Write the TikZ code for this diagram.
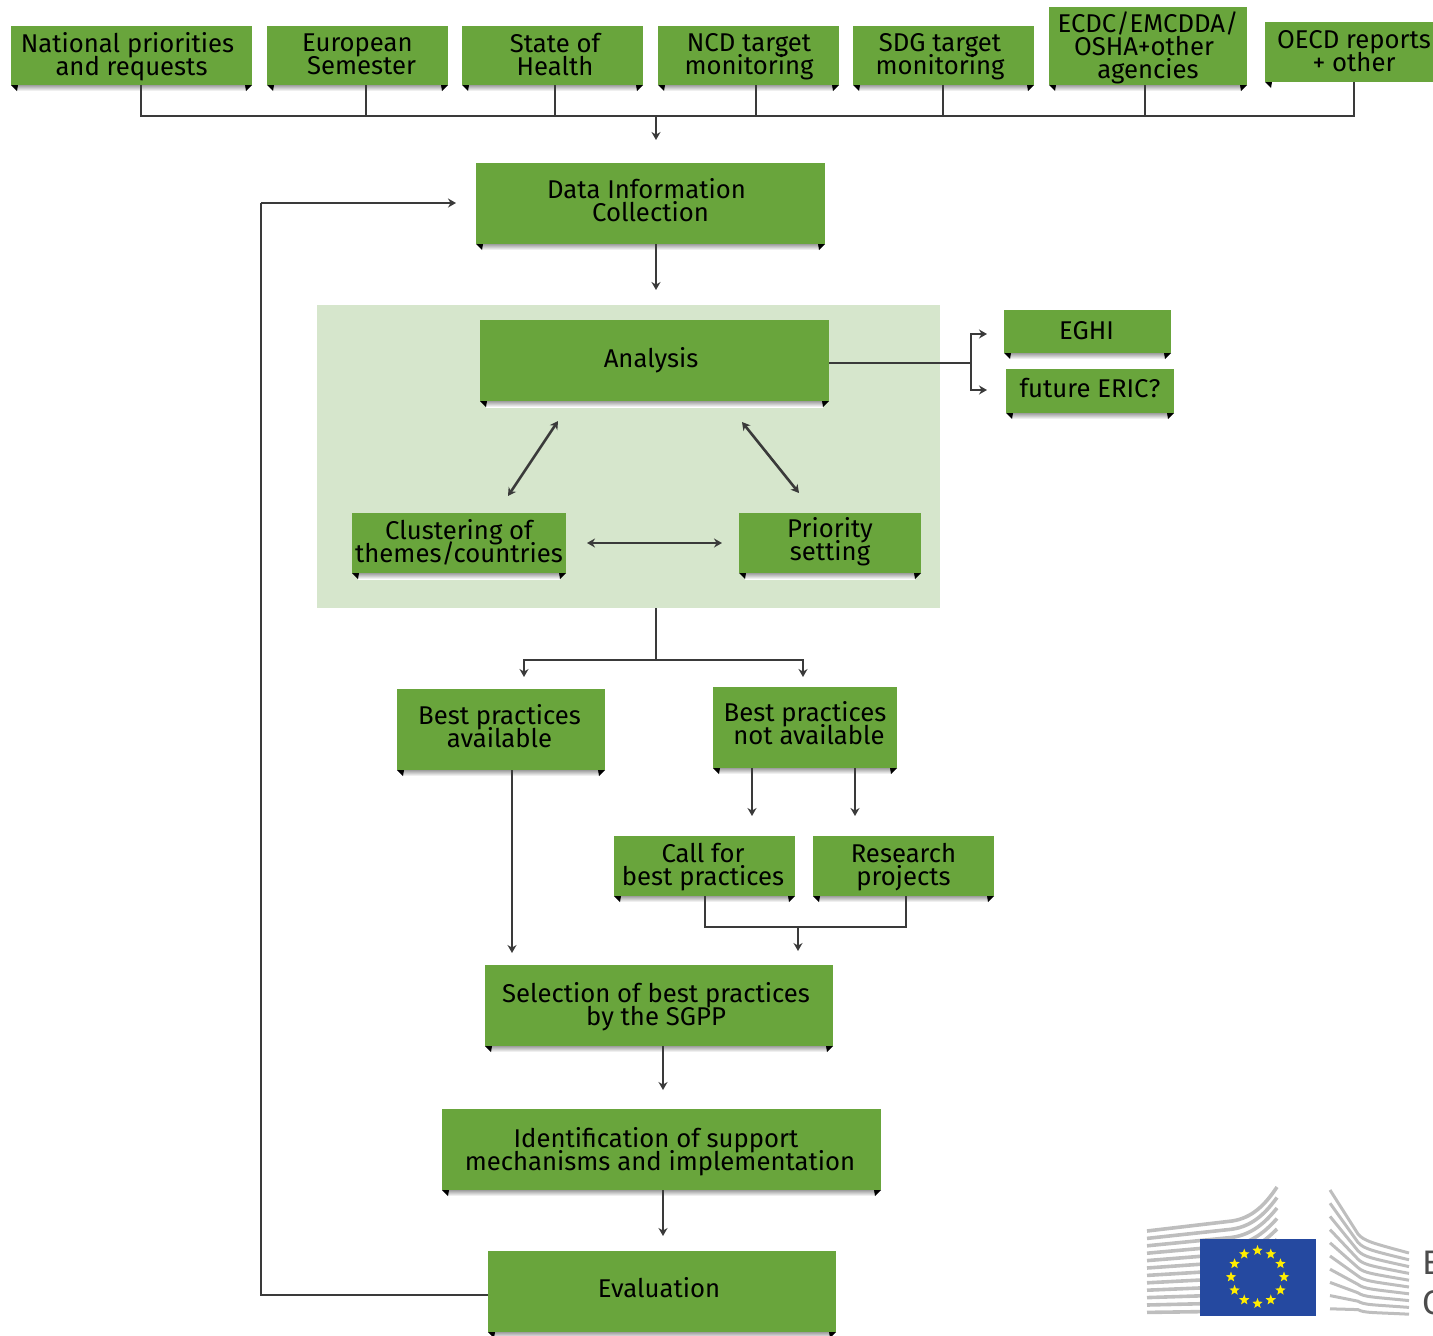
\documentclass[tikz,border=0pt]{standalone}
\usepackage{fontspec}
\setmainfont{Fira Sans}
\usetikzlibrary{arrows.meta,shapes.geometric,calc}
\definecolor{boxgreen}{HTML}{69A53C}
\definecolor{panelgreen}{HTML}{D6E6CC}
\definecolor{linegray}{HTML}{3A3A3A}
\definecolor{logogray}{HTML}{BEBEBE}
\definecolor{eublue}{HTML}{2549A0}
\definecolor{euyellow}{HTML}{FFED00}
\tikzset{
  gbox/.style={fill=boxgreen,draw=none,inner sep=0pt},
  gtext/.style={inner sep=0pt,align=center,text=black,
    font=\fontsize{25.7}{23}\selectfont},
  conn/.style={draw=linegray,line width=2.6pt},
  arr/.style={conn,-{Stealth[length=8pt,width=9pt]}},
  darr/.style={conn,{Stealth[length=8pt,width=9pt]}-{Stealth[length=8pt,width=9pt]}},
  eustar/.style={star,star points=5,star point ratio=2.4,fill=euyellow,draw=none,inner sep=0pt,minimum size=11pt}
}
\newcommand{\lft}{\kern8pt}
\newcommand{\rgt}{\mbox{}\kern8pt}
% name, x0, y0, x1, y1, text dx, text dy, text
\newcommand{\gbox}[8]{%
  \pgfmathsetmacro{\bw}{#4-#2}\pgfmathsetmacro{\bh}{#5-#3}%
  \pgfmathsetmacro{\cx}{(#2+#4)/2}\pgfmathsetmacro{\cy}{(#3+#5)/2}%
  \shade[top color=black!38,bottom color=white] (#2+6,#5) rectangle (#4-6,#5+6);
  \fill[black] (#2,#5) -- (#2+7,#5) -- (#2+6,#5+6) -- cycle;
  \fill[black] (#4,#5) -- (#4-7,#5) -- (#4-6,#5+6) -- cycle;
  \node[gbox,minimum width=\bw pt,minimum height=\bh pt] (#1) at (\cx,\cy) {};
  \pgfmathsetmacro{\ty}{\cy+#7+2}\pgfmathsetmacro{\tx}{\cx+#6}%
  \node[gtext] (#1text) at (\tx,\ty) {\strut#8\strut};
}
\begin{document}
\begin{tikzpicture}[x=1pt,y=-1pt]
\lineskiplimit=-100pt
\useasboundingbox (0,0) rectangle (1433,1336);
\clip (0,0) rectangle (1433,1336);
\fill[panelgreen] (317,305) rectangle (940,608);
% boxes
\gbox{nat}{11}{26}{252}{85}{0}{0}{National priorities\lft\\and requests}
\gbox{eur}{267}{26}{448}{85}{0}{0}{European\\\rgt Semester}
\gbox{soh}{462}{26}{643}{85}{2.5}{0}{State of\\Health}
\gbox{ncd}{658}{26}{839}{85}{0.5}{0}{NCD target\\monitoring}
\gbox{sdg}{853}{26}{1034}{85}{-3.5}{0}{SDG target\\monitoring}
\gbox{ecdc}{1049}{7}{1247}{85}{0}{1}{ECDC/EMCDDA/\\OSHA+other\lft\\agencies}
\fill[boxgreen] (1265,22) rectangle (1433,82);
\node[gbox,fill=none,minimum width=160pt,minimum height=60pt] (oecd) at (1354,52) {};
\node[gtext] (oecdtext) at (1354,54.5) {\strut OECD reports\\+ other\strut};
\fill[black] (1265,82) -- (1272,82) -- (1271,88) -- cycle;
\gbox{data}{476}{163}{825}{244}{0}{-2}{Data Information\lft\\Collection}
\gbox{ana}{480}{320}{829}{401}{-3.5}{-2}{Analysis}
\gbox{eghi}{1004}{310}{1171}{353}{-1}{0.5}{EGHI}
\gbox{eric}{1006}{369}{1174}{413}{0}{-2}{future ERIC?}
\gbox{clu}{352}{513}{566}{573}{0}{-0.5}{Clustering of\\themes/countries}
\gbox{pri}{739}{513}{921}{573}{0}{-2.5}{Priority\\setting}
\gbox{bpa}{397}{689}{605}{770}{-1.5}{-2.5}{Best practices\\available}
\gbox{bpn}{713}{687}{897}{768}{0}{-3}{Best practices\\\rgt not available}
\gbox{call}{614}{836}{795}{896}{-1.5}{0}{Call for\\best practices}
\gbox{res}{813}{836}{994}{896}{0}{0}{Research\\projects}
\gbox{sel}{485}{965}{833}{1046}{-3}{0}{Selection of best practices\\by the SGPP}
\gbox{idn}{442}{1109}{881}{1190}{-1.5}{0.5}{Identification of support\lft\\mechanisms and implementation}
\gbox{eva}{488}{1251}{836}{1332}{-3}{-2.5}{Evaluation}
% named ends
\coordinate (busL) at (141,116);
\coordinate (busE) at (366,116);
\coordinate (busS) at (555,116);
\coordinate (busN) at (756,116);
\coordinate (busG) at (943,116);
\coordinate (busC) at (1145,116);
\coordinate (busR) at (1354,116);
\coordinate (busM) at (656,116);
\coordinate (inD) at (656,140);
\coordinate (dOut) at (656,290);
\coordinate (panelB) at (656,608);
\coordinate (split) at (656,660);
\coordinate (toA) at (524,677);
\coordinate (toN) at (803,677);
\coordinate (loopB) at (261,1295);
\coordinate (loopT) at (261,203);
\coordinate (loopE) at (456,203);
\coordinate (fork) at (971,363);
\coordinate (forkU) at (987,334);
\coordinate (forkD) at (987,390);
\coordinate (aL) at (558,421);
\coordinate (cT) at (508,496);
\coordinate (aR) at (742,422);
\coordinate (pT) at (799,493);
\coordinate (cR) at (587,543);
\coordinate (pL) at (722,543);
\coordinate (bpaE) at (512,953);
\coordinate (bpn1) at (752,816);
\coordinate (bpn2) at (855,816);
\coordinate (cb) at (705,927);
\coordinate (rb) at (906,927);
\coordinate (cbM) at (798,927);
\coordinate (cbE) at (798,951);
\coordinate (selE) at (663,1090);
\coordinate (idnE) at (663,1236);
% connectors
\draw[conn] (nat.south -| busL) -- (busL) -- (busR) -- (oecd.south -| busR);
\draw[conn] (eur.south -| busE) -- (busE);
\draw[conn] (soh.south -| busS) -- (busS);
\draw[conn] (ncd.south -| busN) -- (busN);
\draw[conn] (sdg.south -| busG) -- (busG);
\draw[conn] (ecdc.south -| busC) -- (busC);
\draw[arr] (busM) -- (inD);
\draw[arr] (data.south -| dOut) -- (dOut);
\draw[conn] (ana.east |- fork) -- (fork);
\draw[arr] (fork) |- (forkU);
\draw[arr] (fork) |- (forkD);
\draw[darr] (aL) -- (cT);
\draw[darr] (aR) -- (pT);
\draw[darr] (cR) -- (pL);
\draw[conn] (panelB) -- (split);
\draw[arr] (split) -| (toA);
\draw[arr] (split) -| (toN);
\draw[arr] (bpa.south -| bpaE) -- (bpaE);
\draw[arr] (bpn.south -| bpn1) -- (bpn1);
\draw[arr] (bpn.south -| bpn2) -- (bpn2);
\draw[conn] (call.south -| cb) -- (cb) -- (rb) -- (res.south -| rb);
\draw[arr] (cbM) -- (cbE);
\draw[arr] (sel.south -| selE) -- (selE);
\draw[arr] (idn.south -| idnE) -- (idnE);
\draw[conn] (eva.west |- loopB) -- (loopB) -- (loopT);
\draw[arr] (loopT) -- (loopE);
% logo left
\foreach \i in {0,...,11}
  \draw[draw=logogray,line width=3.6pt] (1147,{1231+7.4*\i}) -- (1232,{1221+8.2*\i}) .. controls (1252,{1218+8.2*\i}) and (1265,{1205+9*\i}) .. (1277,{1187+10.5*\i});
% logo right
\foreach \i in {0,...,9}
  \draw[draw=logogray,line width=3pt] (1330,{1190+13.2*\i}) -- (1358,{1234+8.4*\i}) .. controls (1364,{1241+8*\i}) and (1372,{1243+7.7*\i}) .. (1409,{1253+6.8*\i});
\fill[eublue] (1200,1239) rectangle (1316,1316);
\foreach \a in {0,30,...,330}
  \node[eustar] (star\a) at ({1257.5+26.5*cos(\a)},{1277+26.5*sin(\a)}) {};
\node[text=black!70,font=\fontsize{34}{34}\selectfont,anchor=west,inner sep=0pt] (logoE) at (1422,1263) {E};
\node[text=black!70,font=\fontsize{34}{34}\selectfont,anchor=west,inner sep=0pt] (logoC) at (1422,1303) {C};
\end{tikzpicture}
\end{document}
